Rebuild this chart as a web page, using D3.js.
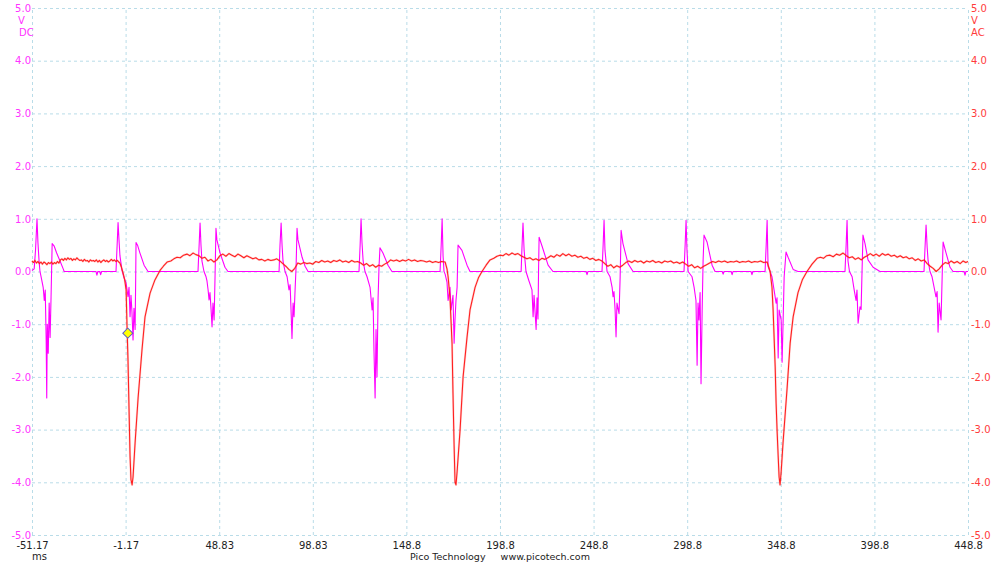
<!DOCTYPE html>
<html>
<head>
<meta charset="utf-8">
<script src="https://cdn.jsdelivr.net/npm/d3@7"></script>
<style>
  html, body { margin: 0; padding: 0; background: #fff; }
  svg { display: block; font-family: "DejaVu Sans", sans-serif; }
</style>
</head>
<body>
<svg id="chart" width="1000" height="562"></svg>
<script>
// ---------- data ----------
const xTicks = [-51.17, -1.17, 48.83, 98.83, 148.8, 198.8, 248.8, 298.8, 348.8, 398.8, 448.8];
const xTickLabels = ["-51.17", "-1.17", "48.83", "98.83", "148.8", "198.8", "248.8", "298.8", "348.8", "398.8", "448.8"];
const yTicks = [5, 4, 3, 2, 1, 0, -1, -2, -3, -4, -5];
const yTickLabels = ["5.0", "4.0", "3.0", "2.0", "1.0", "0.0", "-1.0", "-2.0", "-3.0", "-4.0", "-5.0"];
const xUnit = "ms";
const leftUnit = ["V", "DC"];
const rightUnit = ["V", "AC"];
const footer = "Pico Technology     www.picotech.com";
const trigger = [0, -1.17];

// Channel A (DC, magenta): [time ms, volts]
const channelA = [
  [-51.17, 0.02], [-50.0, 0.05], [-49.3, 0.4], [-48.5, 1.0], [-48.0, 0.55], [-47.4, 0.2], [-46.9, 0.0], [-46.3, -0.1],
  [-45.2, -0.3], [-44.6, -0.55], [-44.1, -0.35], [-43.6, -1.3], [-43.3, -2.4], [-43.0, -1.0], [-42.5, -1.55], [-42.0, -0.6],
  [-41.5, -1.25], [-41.0, -0.5], [-40.4, 0.53], [-39.3, 0.48], [-38.0, 0.35], [-36.2, 0.2], [-34.5, 0.05], [-34.0, 0.0],
  [-17.0, 0.0], [-16.5, -0.07], [-16.0, 0.0], [-15.0, 0.0], [-14.5, -0.06], [-14.0, 0.0],
  [-6.3, 0.0], [-5.7, 0.5], [-5.2, 0.93], [-4.7, 0.6], [-4.2, 0.3], [-3.1, 0.02], [-2.0, -0.12], [-0.9, -0.22], [0.1, -0.48],
  [0.65, -0.3], [1.2, -0.86], [1.7, -0.45], [2.2, -0.75], [2.8, -1.3], [3.3, -0.7], [3.9, -1.1], [4.2, -0.2], [4.4, 0.55],
  [5.2, 0.5], [6.5, 0.35], [8.7, 0.12], [10.8, 0.0],
  [37.5, 0.0], [38.1, 0.5], [38.6, 0.92], [39.1, 0.5], [39.6, 0.2], [40.7, 0.0], [41.8, -0.1], [42.3, -0.18], [42.9, -0.35],
  [43.4, -0.54], [43.9, -0.4], [44.5, -0.73], [45.0, -1.05], [45.5, -0.6], [46.1, -0.92], [46.6, -0.1], [47.1, 0.82],
  [47.6, 0.6], [49.3, 0.35], [51.9, 0.08], [53.5, 0.0],
  [80.8, 0.0], [81.3, 0.5], [81.9, 0.92], [82.4, 0.5], [82.9, 0.2], [84.0, 0.0], [85.1, -0.1], [86.1, -0.35], [86.7, -0.25],
  [87.2, -0.73], [87.7, -1.27], [88.3, -0.6], [88.8, -0.86], [89.3, -0.4], [89.9, 0.1], [90.4, 0.82], [90.9, 0.6],
  [93.1, 0.27], [94.7, 0.1], [96.3, 0.0],
  [123.5, 0.0], [124.1, 0.5], [124.6, 1.0], [125.1, 0.55], [125.7, 0.2], [126.7, 0.0], [127.8, -0.1], [129.4, -0.3],
  [130.5, -0.73], [131.0, -0.5], [131.5, -1.5], [132.1, -2.4], [132.6, -1.1], [133.1, -2.0], [133.7, -0.5], [134.2, 0.1],
  [134.7, 0.45], [136.3, 0.35], [139.0, 0.12], [141.1, 0.0],
  [166.8, 0.0], [167.4, 0.5], [167.9, 1.0], [168.4, 0.3], [168.9, 0.0], [169.5, -0.05], [170.5, -0.2], [171.1, -0.55],
  [172.1, -0.3], [172.7, -0.73], [173.7, -0.45], [174.3, -1.36], [174.8, -0.9], [175.3, -0.55], [175.9, -0.3], [176.4, 0.5],
  [178.5, 0.4], [181.2, 0.12], [182.8, 0.0],
  [210.1, 0.0], [210.6, 0.5], [211.1, 0.92], [211.7, 0.4], [212.7, 0.0], [214.3, -0.18], [215.9, -0.35], [216.5, -0.86],
  [217.0, -0.45], [218.1, -1.1], [218.6, -0.5], [219.1, -0.9], [219.4, 0.0], [219.7, 0.65], [221.3, 0.48], [224.5, 0.12],
  [227.1, 0.0],
  [244.8, 0.0], [245.3, -0.06], [245.8, 0.0],
  [253.3, 0.0], [253.9, 0.5], [254.4, 0.97], [254.9, 0.4], [256.0, 0.0], [257.6, -0.1], [258.7, -0.3], [259.2, -0.48],
  [259.7, -0.38], [260.3, -0.73], [260.8, -1.24], [261.3, -0.6], [262.4, -0.8], [263.0, -0.1], [263.5, 0.78], [264.5, 0.53],
  [267.2, 0.15], [269.9, 0.0],
  [297.1, 0.0], [297.7, 0.5], [298.2, 0.97], [298.7, 0.4], [299.3, 0.0], [301.4, -0.1], [302.5, -0.3], [303.5, -0.55],
  [304.1, -1.78], [304.6, -0.6], [305.1, -0.92], [305.7, -0.4], [306.2, -2.13], [306.8, -0.73], [307.3, 0.2], [307.8, 0.69],
  [309.4, 0.56], [312.1, 0.12], [313.7, 0.0],
  [317.5, 0.0], [318.0, -0.05], [318.5, 0.0], [322.3, 0.0], [322.8, -0.06], [323.3, 0.0], [332.9, 0.0], [333.4, -0.06], [333.9, 0.0],
  [340.4, 0.0], [341.0, 0.5], [341.5, 0.97], [342.0, 0.1], [344.1, -0.1], [345.2, -0.35], [346.3, -0.6], [346.8, -0.5],
  [347.4, -1.64], [347.9, -0.73], [349.0, -0.92], [349.5, -1.72], [350.0, -1.0], [350.6, -0.1], [351.6, 0.37], [352.7, 0.27],
  [355.4, 0.04], [358.0, 0.0],
  [383.1, 0.0], [383.7, 0.5], [384.2, 0.97], [384.7, 0.2], [385.5, 0.0], [386.9, -0.1], [388.0, -0.35], [389.0, -0.55],
  [389.5, -0.35], [390.1, -0.98], [391.1, -0.67], [391.7, -0.72], [392.2, 0.0], [392.7, 0.69], [393.8, 0.53], [395.4, 0.22],
  [398.1, 0.08], [401.8, 0.0],
  [425.3, 0.0], [425.9, 0.5], [426.4, 0.88], [427.0, 0.45], [427.5, 0.2], [428.5, 0.0], [429.6, -0.1], [430.7, -0.3],
  [431.7, -0.48], [432.3, -0.38], [432.8, -1.15], [433.4, -0.6], [434.4, -0.92], [435.0, -0.1], [435.5, 0.56], [437.1, 0.35],
  [439.2, 0.08], [440.8, 0.0], [446.7, 0.0], [447.2, -0.07], [447.7, 0.0], [448.8, 0.0]
];

// Channel B (AC, red): [time ms, volts]
const channelB = [
  [-51.2, 0.20], [-50.4, 0.17], [-49.6, 0.21], [-48.8, 0.16], [-48.0, 0.19], [-47.2, 0.15], [-46.4, 0.18], [-45.6, 0.14],
  [-44.8, 0.18], [-44.0, 0.16], [-43.2, 0.13], [-42.4, 0.17], [-41.6, 0.15], [-40.8, 0.18], [-40.0, 0.14], [-39.2, 0.17],
  [-38.4, 0.15], [-37.6, 0.19], [-36.8, 0.16], [-36.0, 0.22], [-35.2, 0.24], [-34.4, 0.21], [-33.6, 0.25], [-32.8, 0.22],
  [-32.0, 0.26], [-31.2, 0.23], [-30.4, 0.25], [-29.6, 0.21], [-28.8, 0.24], [-28.0, 0.22], [-27.2, 0.26], [-26.4, 0.23],
  [-25.6, 0.21], [-24.8, 0.22], [-24.0, 0.19], [-23.2, 0.23], [-22.4, 0.20], [-21.6, 0.21], [-20.8, 0.18], [-20.0, 0.22],
  [-19.2, 0.20], [-18.4, 0.21], [-17.6, 0.19], [-16.8, 0.22], [-16.0, 0.18], [-15.2, 0.21], [-14.4, 0.17], [-13.6, 0.20],
  [-12.8, 0.22], [-12.0, 0.19], [-11.2, 0.21], [-10.4, 0.18], [-9.6, 0.20], [-8.8, 0.23], [-8.0, 0.20], [-7.2, 0.22],
  [-6.4, 0.19], [-5.6, 0.21], [-4.8, 0.18], [-4.2, 0.16],
  [-3.4, 0.08], [-2.5, -0.03], [-1.7, -0.15], [-0.9, -0.35], [-0.4, -1.05], [0.1, -1.67], [0.65, -2.6], [1.2, -3.5],
  [1.7, -3.95], [2.3, -4.05], [2.8, -3.9], [3.9, -3.25], [5.5, -2.4], [7.6, -1.48], [9.2, -0.86], [11.9, -0.41],
  [14.5, -0.16], [17.2, 0.02], [19.0, 0.10], [21.0, 0.18], [23.0, 0.20], [24.6, 0.24], [26.3, 0.27], [28.0, 0.26],
  [29.8, 0.31], [31.6, 0.33], [33.2, 0.30], [34.8, 0.35], [36.4, 0.32], [38.0, 0.30],
  [39.6, 0.25], [41.2, 0.27], [42.8, 0.20], [44.4, 0.23], [46.0, 0.18], [47.6, 0.22], [49.2, 0.30], [50.8, 0.33],
  [52.4, 0.29], [54.0, 0.34], [55.6, 0.31], [57.2, 0.28], [58.8, 0.33], [60.4, 0.30], [62.0, 0.26], [63.6, 0.30],
  [65.2, 0.27], [66.8, 0.24], [68.4, 0.26], [70.0, 0.22], [71.6, 0.23], [73.2, 0.20], [74.8, 0.23], [76.4, 0.21],
  [78.0, 0.22], [79.6, 0.24], [81.2, 0.20],
  [82.8, 0.15], [84.4, 0.10], [86.0, 0.04], [87.6, 0.00], [89.2, 0.06], [90.8, 0.16], [92.4, 0.14], [94.0, 0.17],
  [95.6, 0.15], [97.2, 0.16], [98.8, 0.14], [100.4, 0.19], [102.0, 0.17], [103.6, 0.21], [105.2, 0.18], [106.8, 0.20],
  [108.4, 0.17], [110.0, 0.21], [111.6, 0.19], [113.2, 0.22], [114.8, 0.18], [116.4, 0.20], [118.0, 0.17], [119.6, 0.21],
  [121.2, 0.18], [122.8, 0.19],
  [124.4, 0.16], [126.0, 0.12], [127.6, 0.15], [129.2, 0.10], [130.8, 0.13], [132.4, 0.08], [134.0, 0.12], [135.6, 0.10],
  [137.2, 0.14], [138.8, 0.17], [140.4, 0.22], [142.0, 0.20], [143.6, 0.22], [145.2, 0.19], [146.8, 0.22], [148.4, 0.20],
  [150.0, 0.23], [151.6, 0.20], [153.2, 0.22], [154.8, 0.19], [156.4, 0.21], [158.0, 0.20], [159.6, 0.18], [161.2, 0.20],
  [162.8, 0.17], [164.4, 0.19], [166.0, 0.17], [167.6, 0.19], [169.5, 0.18],
  [170.5, 0.05], [171.1, -0.1], [172.1, -0.5], [173.2, -1.36], [173.7, -2.3], [174.3, -3.3], [174.8, -4.0], [175.3, -4.05],
  [175.9, -3.8], [177.5, -3.0], [179.1, -2.0], [181.2, -1.25], [182.8, -0.73], [185.5, -0.3], [187.3, -0.12], [189.2, 0.0],
  [191.4, 0.12], [193.5, 0.22], [195.5, 0.25], [197.2, 0.29], [198.8, 0.31], [200.4, 0.30], [202.0, 0.34], [203.6, 0.31],
  [205.2, 0.35], [206.8, 0.32], [208.4, 0.34], [210.0, 0.30],
  [211.6, 0.27], [213.2, 0.24], [214.8, 0.26], [216.4, 0.22], [218.0, 0.24], [219.6, 0.21], [221.2, 0.25], [222.8, 0.23],
  [224.4, 0.26], [226.0, 0.30], [227.6, 0.27], [229.2, 0.32], [230.8, 0.29], [232.4, 0.34], [234.0, 0.30], [235.6, 0.33],
  [237.2, 0.29], [238.8, 0.31], [240.4, 0.27], [242.0, 0.29], [243.6, 0.25], [245.2, 0.27], [246.8, 0.23], [248.4, 0.25],
  [250.0, 0.21], [251.6, 0.23], [253.2, 0.20],
  [254.8, 0.15], [256.4, 0.10], [258.0, 0.13], [259.6, 0.07], [261.2, 0.11], [262.8, 0.08], [264.4, 0.12], [266.0, 0.17],
  [267.6, 0.20], [269.2, 0.17], [270.8, 0.21], [272.4, 0.18], [274.0, 0.20], [275.6, 0.16], [277.2, 0.20], [278.8, 0.18],
  [280.4, 0.21], [282.0, 0.17], [283.6, 0.19], [285.2, 0.16], [286.8, 0.20], [288.4, 0.18], [290.0, 0.20], [291.6, 0.16],
  [293.2, 0.18], [294.8, 0.15], [296.4, 0.18],
  [298.0, 0.14], [299.6, 0.10], [301.2, 0.13], [302.8, 0.07], [304.4, 0.10], [306.0, 0.06], [307.6, 0.10], [309.2, 0.13],
  [310.8, 0.16], [312.4, 0.19], [314.0, 0.17], [315.6, 0.20], [317.2, 0.18], [318.8, 0.20], [320.4, 0.17], [322.0, 0.19],
  [323.6, 0.18], [325.2, 0.20], [326.8, 0.17], [328.4, 0.19], [330.0, 0.18], [331.6, 0.20], [333.2, 0.17], [334.8, 0.19],
  [336.4, 0.18], [338.0, 0.20], [339.6, 0.17], [341.5, 0.18],
  [343.1, 0.0], [344.1, -0.3], [344.7, -0.73], [345.8, -1.8], [346.3, -2.5], [346.8, -3.0], [347.4, -3.5], [347.9, -3.9],
  [348.4, -4.05], [349.0, -3.8], [350.0, -3.25], [352.2, -2.2], [353.8, -1.36], [355.4, -0.86], [358.0, -0.4], [360.4, -0.15],
  [362.8, 0.0], [365.5, 0.14], [368.2, 0.25], [370.0, 0.27], [371.6, 0.25], [373.3, 0.30], [375.1, 0.31], [376.8, 0.28],
  [378.5, 0.33], [380.2, 0.31], [382.1, 0.35],
  [383.8, 0.30], [385.4, 0.26], [387.0, 0.28], [388.6, 0.23], [390.2, 0.26], [391.8, 0.22], [393.4, 0.27], [395.0, 0.30],
  [396.6, 0.34], [398.2, 0.30], [399.8, 0.33], [401.4, 0.29], [403.0, 0.34], [404.6, 0.31], [406.2, 0.33], [407.8, 0.29],
  [409.4, 0.31], [411.0, 0.27], [412.6, 0.30], [414.2, 0.26], [415.8, 0.28], [417.4, 0.24], [419.0, 0.26], [420.6, 0.21],
  [422.2, 0.24], [423.8, 0.20], [425.4, 0.22],
  [427.0, 0.15], [428.6, 0.10], [430.2, 0.06], [431.8, 0.00], [433.4, 0.05], [435.0, 0.12], [436.6, 0.17], [438.2, 0.15],
  [439.8, 0.20], [441.4, 0.16], [443.0, 0.19], [444.6, 0.15], [446.2, 0.20], [447.6, 0.17], [448.8, 0.19]
];

// ---------- drawing ----------
const W = 1000, H = 562;
const plot = { left: 32, right: 968, top: 8, bottom: 535 };
const colA = "#ff00ff", colB = "#ff2020";
const labA = "#ff33ff", labB = "#ff3b3b";
const gridCol = "#b9dce8";

const svg = d3.select("#chart");
svg.append("rect").attr("width", W).attr("height", H).attr("fill", "#fff");

const x = d3.scaleLinear().domain([xTicks[0], xTicks[xTicks.length - 1]]).range([plot.left, plot.right]);
const y = d3.scaleLinear().domain([-5, 5]).range([plot.bottom, plot.top]);

// grid
const gx = svg.append("g").attr("transform", `translate(0,${plot.bottom})`)
  .call(d3.axisBottom(x).tickValues(xTicks).tickSize(-(plot.bottom - plot.top)).tickFormat(""));
gx.select(".domain").remove();
gx.selectAll("line").attr("stroke", gridCol).attr("stroke-dasharray", "3,3");

const gy = svg.append("g").attr("transform", `translate(${plot.left},0)`)
  .call(d3.axisLeft(y).tickValues(yTicks).tickSize(-(plot.right - plot.left)).tickFormat(""));
gy.select(".domain").remove();
gy.selectAll("line").attr("stroke", gridCol).attr("stroke-dasharray", "3,3");

// axes labels
const fmtY = v => yTickLabels[yTicks.indexOf(v)];
const ax = svg.append("g").attr("transform", `translate(${plot.left},0)`)
  .call(d3.axisLeft(y).tickValues(yTicks).tickSize(0).tickPadding(1).tickFormat(fmtY));
ax.select(".domain").remove();
ax.selectAll("text").attr("fill", labA).style("font-size", "10px").style("font-family", "DejaVu Sans");

const ar = svg.append("g").attr("transform", `translate(${plot.right},0)`)
  .call(d3.axisRight(y).tickValues(yTicks).tickSize(0).tickPadding(3).tickFormat(fmtY));
ar.select(".domain").remove();
ar.selectAll("text").attr("fill", labB).style("font-size", "10px").style("font-family", "DejaVu Sans");

const ab = svg.append("g").attr("transform", `translate(0,${plot.bottom})`)
  .call(d3.axisBottom(x).tickValues(xTicks).tickSize(0).tickPadding(7)
    .tickFormat(v => xTickLabels[xTicks.indexOf(v)]));
ab.select(".domain").remove();
ab.selectAll("text").attr("fill", "#222").style("font-size", "10px").style("font-family", "DejaVu Sans");

// unit labels
const unitStyle = s => s.style("font-size", "10px").style("font-family", "DejaVu Sans");
svg.append("text").attr("x", 18).attr("y", 24).attr("fill", labA).text(leftUnit[0]).call(unitStyle);
svg.append("text").attr("x", 19).attr("y", 36).attr("fill", labA).text(leftUnit[1]).call(unitStyle);
svg.append("text").attr("x", 971).attr("y", 24).attr("fill", labB).text(rightUnit[0]).call(unitStyle);
svg.append("text").attr("x", 971).attr("y", 36).attr("fill", labB).text(rightUnit[1]).call(unitStyle);
svg.append("text").attr("x", 32).attr("y", 560).attr("fill", "#222").text(xUnit).call(unitStyle);
svg.append("text").attr("x", 500).attr("y", 560).attr("fill", "#222").attr("text-anchor", "middle")
  .style("white-space", "pre").attr("xml:space", "preserve").text(footer)
  .style("font-size", "9.5px").style("font-family", "DejaVu Sans");

// traces
const line = d3.line().x(d => x(d[0])).y(d => y(d[1]));
svg.append("path").datum(channelA).attr("d", line).attr("fill", "none")
  .attr("stroke", colA).attr("stroke-width", 1.1).attr("stroke-linejoin", "round");
svg.append("path").datum(channelB).attr("d", line).attr("fill", "none")
  .attr("stroke", colB).attr("stroke-opacity", 0.18).attr("stroke-width", 2.2).attr("stroke-linejoin", "round");
svg.append("path").datum(channelB).attr("d", line).attr("fill", "none")
  .attr("stroke", colB).attr("stroke-width", 1.1).attr("stroke-linejoin", "round");

// trigger marker (diamond = rotated square)
const tx = x(trigger[0]), ty = y(trigger[1]);
svg.append("path")
  .attr("d", d3.symbol().type(d3.symbolSquare).size(50)())
  .attr("transform", `translate(${tx},${ty}) rotate(45)`)
  .attr("fill", "#ffff00").attr("stroke", "#5a5ac8").attr("stroke-width", 1);
</script>
</body>
</html>
